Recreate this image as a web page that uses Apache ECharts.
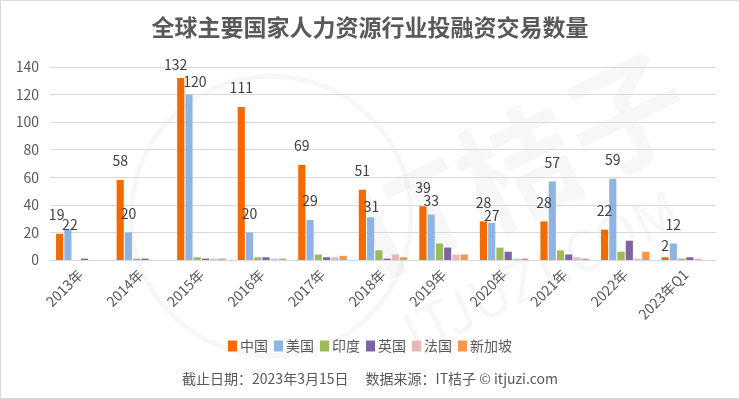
<!DOCTYPE html>
<html lang="zh">
<head>
  <meta charset="UTF-8" />
  <title>全球主要国家人力资源行业投融资交易数量</title>
  <script src="https://cdn.jsdelivr.net/npm/echarts@6/dist/echarts.min.js"></script>
  <style>
    html, body {
      margin: 0;
      padding: 0;
      background: #fff;
    }

    #chart {
      width: 738px;
      height: 397px;
      border: 1px solid #d9d9d9;
    }
  </style>
</head>
<body>
  <div id="chart"></div>

  <script>
    const years = ['2013年', '2014年', '2015年', '2016年', '2017年', '2018年', '2019年', '2020年', '2021年', '2022年', '2023年Q1'];

    const china = [19, 58, 132, 111, 69, 51, 39, 28, 28, 22, 2];
    const usa = [22, 20, 120, 20, 29, 31, 33, 27, 57, 59, 12];
    const india = [0, 1, 2, 2, 4, 7, 12, 9, 7, 6, 1];
    const uk = [1, 1, 1, 2, 2, 1, 9, 6, 4, 14, 2];
    const france = [0, 0, 1, 1, 2, 4, 4, 1, 2, 1, 1];
    const singapore = [0, 0, 1, 1, 3, 2, 4, 1, 1, 6, 0];

    const yTicks = [0, 20, 40, 60, 80, 100, 120, 140];

    // labels that were moved by hand in the original: index -> [dx, dy]
    const chinaNudge = { 0: [-3, 0], 2: [-5, 6], 10: [0, 7] };
    const usaNudge = { 0: [2, 14], 2: [6, 6], 5: [1, 8], 6: [0, 5], 7: [0, 12] };

    const font = 'Noto Sans CJK SC';
    const chart = echarts.init(document.getElementById('chart'));

    function withNudge(data, nudge) {
      return data.map((v, i) => nudge[i] ? { value: v, label: { offset: nudge[i] } } : v);
    }

    function bar(name, data, color, withLabel) {
      return {
        name: name,
        type: 'bar',
        data: data,
        barGap: '15%',
        barCategoryGap: '20%',
        itemStyle: { color: color },
        label: {
          show: withLabel,
          position: 'top',
          distance: 12,
          color: '#404040',
          fontSize: 14,
          fontFamily: font
        }
      };
    }

    const option = {
      textStyle: { fontFamily: font },
      title: {
        text: '全球主要国家人力资源行业投融资交易数量',
        left: 'center',
        top: 10,
        textStyle: {
          color: '#595959',
          fontSize: 23,
          fontWeight: 'bold',
          fontFamily: font
        }
      },
      legend: {
        bottom: 40,
        left: 'center',
        itemWidth: 9,
        itemHeight: 11,
        itemGap: 6,
        icon: 'rect',
        textStyle: { color: '#595959', fontSize: 14, fontFamily: font, padding: [0, 0, 0, -2] }
      },
      grid: { left: 49, right: 23, top: 66, bottom: 138 },
      xAxis: {
        type: 'category',
        data: years,
        axisTick: { show: false },
        axisLine: { lineStyle: { color: '#d9d9d9' } },
        axisLabel: {
          rotate: 45,
          interval: 0,
          color: '#595959',
          fontSize: 14,
          margin: 12,
          fontFamily: font
        }
      },
      yAxis: {
        type: 'value',
        min: yTicks[0],
        max: yTicks[yTicks.length - 1],
        interval: 20,
        axisLine: { show: false },
        axisTick: { show: false },
        axisLabel: { color: '#595959', fontSize: 14, margin: 11, fontFamily: font },
        splitLine: { lineStyle: { color: '#d9d9d9' } }
      },
      series: [
        bar('中国', withNudge(china, chinaNudge), '#f26a00', true),
        bar('美国', withNudge(usa, usaNudge), '#8eb4e3', true),
        bar('印度', india, '#9bbb59', false),
        bar('英国', uk, '#8064a2', false),
        bar('法国', france, '#e6b9b8', false),
        bar('新加坡', singapore, '#f79646', false)
      ],
      graphic: [
        // faint IT桔子 watermark
        {
          type: 'circle',
          shape: { cx: 270, cy: 215, r: 140 },
          style: { fill: 'none', stroke: 'rgba(0,0,0,0.03)', lineWidth: 5 },
          silent: true,
          z: -1
        },
        {
          type: 'text',
          x: 520,
          y: 165,
          rotation: 0.45,
          silent: true,
          z: -1,
          style: {
            text: 'IT桔子',
            font: 'bold 120px Noto Sans CJK SC',
            fill: 'rgba(0,0,0,0.03)',
            align: 'center',
            verticalAlign: 'middle'
          }
        },
        {
          type: 'text',
          x: 540,
          y: 270,
          rotation: 0.45,
          silent: true,
          z: -1,
          style: {
            text: 'ITJUZI.COM',
            font: '56px Noto Sans CJK SC',
            fill: 'rgba(0,0,0,0.03)',
            align: 'center',
            verticalAlign: 'middle'
          }
        },
        {
          type: 'text',
          left: 'center',
          bottom: 12,
          style: {
            text: '截止日期：2023年3月15日　 数据来源：IT桔子 © itjuzi.com',
            font: '14px Noto Sans CJK SC',
            fill: '#595959'
          }
        }
      ]
    };

    chart.setOption(option);
  </script>
</body>
</html>
